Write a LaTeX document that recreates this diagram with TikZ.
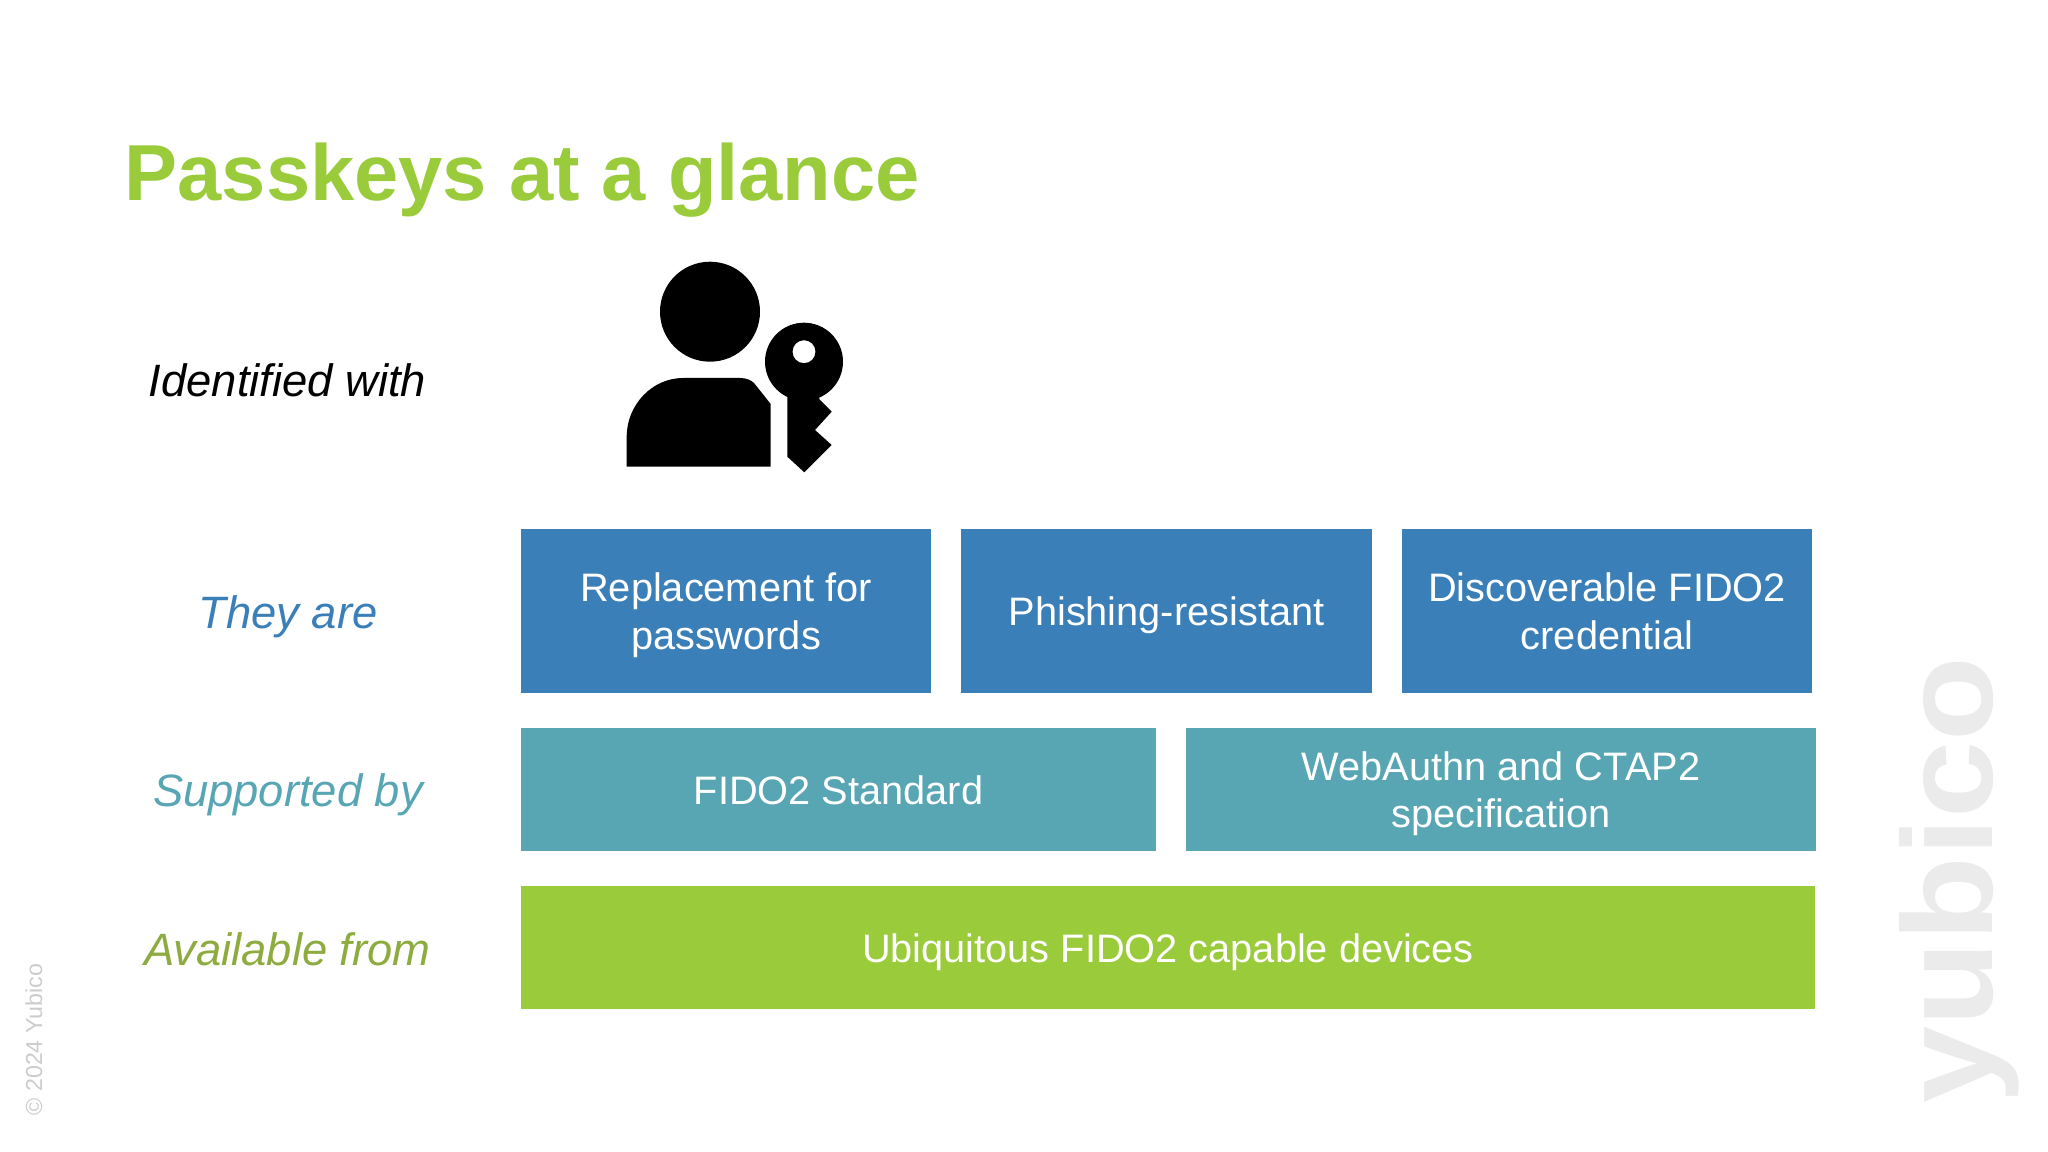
\documentclass[tikz,border=0pt]{standalone}
\usepackage{fontspec}
\setmainfont{Liberation Sans}
\definecolor{passgreen}{HTML}{9ACB3B}
\definecolor{passblue}{HTML}{3B7FB8}
\definecolor{passteal}{HTML}{58A6B4}
\definecolor{passolive}{HTML}{8DAB3E}
\newcommand{\boxline}{\rule[-2.5pt]{0pt}{13.29pt}}
\tikzset{
	box/.style={draw=none,inner sep=0pt,text=white,align=center,font=\fontsize{11.3pt}{13.6pt}\selectfont},
	rowlabel/.style={inner sep=0pt,font=\fontsize{12.9pt}{15pt}\selectfont\itshape},
}
\begin{document}
\begin{tikzpicture}[x=0.01cm,y=-0.01cm]
	\useasboundingbox (0,0) rectangle (2048,1152);
	\node[anchor=base west,inner sep=0pt,text=passgreen,font=\fontsize{22.6pt}{26pt}\selectfont\bfseries] (title) at (124,200.5) {Passkeys at a glance};
	% labels on the left
	\node[rowlabel,text=black] (identified) at (287.5,380) {Identified with};
	\node[rowlabel,text=passblue] (theyare) at (288,617) {They are};
	\node[rowlabel,text=passteal] (supported) at (288,795) {Supported by};
	\node[rowlabel,text=passolive] (available) at (287.5,949) {Available from};
	% boxes
	\node[box,fill=passblue,minimum width=4.10cm,minimum height=1.635cm] (replacement) at (726,611) {\boxline Replacement for\\\boxline passwords};
	\node[box,fill=passblue,minimum width=4.10cm,minimum height=1.635cm] (phishing) at (1166.5,611) {\boxline Phishing-resistant};
	\node[box,fill=passblue,minimum width=4.10cm,minimum height=1.635cm] (discoverable) at (1607,611) {\boxline Discoverable FIDO2\\\boxline credential};
	\node[box,fill=passteal,minimum width=6.35cm,minimum height=1.23cm] (standard) at (838.5,789.5) {\boxline FIDO2 Standard};
	\node[box,fill=passteal,minimum width=6.29cm,minimum height=1.23cm] (webauthn) at (1501,789.5) {\boxline WebAuthn and CTAP2\\\boxline specification};
	\node[box,fill=passgreen,minimum width=12.94cm,minimum height=1.23cm] (devices) at (1168,947.5) {\boxline Ubiquitous FIDO2 capable devices};
	% person with key
	\fill[black] (710,311.7) circle (50);
	\fill[black] (626.7,466.7) -- (626.7,436.7) .. controls (626.7,405) and (652,378) .. (683,378) -- (740,378) .. controls (746,378) and (751,380) .. (754,383) -- (770.7,404) -- (770.7,466.7) -- cycle;
	\fill[black,even odd rule] (804,361.7) circle (39) (804,351.7) circle (11.5);
	\fill[black] (787.3,390) -- (787.3,456.7) -- (804.3,472.3) -- (831.7,445) -- (815,430) -- (831.7,411.7) -- (819.3,399.3) -- (819.3,390) -- cycle;
	% watermarks
	\node[rotate=90,xscale=1.08,anchor=base,inner sep=0pt,text=black!8,font=\fontsize{36.5pt}{40pt}\selectfont\bfseries] (logo) at (1992,880) {yubico};
	\node[rotate=90,anchor=base west,inner sep=0pt,text=black!20,font=\fontsize{6.6pt}{7pt}\selectfont] (copyright) at (42,1116) {© 2024 Yubico};
\end{tikzpicture}
\end{document}
